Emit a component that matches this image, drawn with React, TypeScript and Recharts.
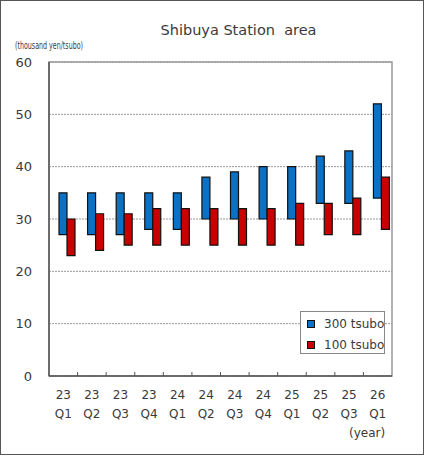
import React from 'react';
import { BarChart, Bar, XAxis, YAxis, CartesianGrid, ReferenceArea } from 'recharts';

const quarters = ['23 Q1', '23 Q2', '23 Q3', '23 Q4', '24 Q1', '24 Q2', '24 Q3', '24 Q4', '25 Q1', '25 Q2', '25 Q3', '26 Q1'];
const low300 = [27, 27, 27, 28, 28, 30, 30, 30, 30, 33, 33, 34];
const high300 = [35, 35, 35, 35, 35, 38, 39, 40, 40, 42, 43, 52];
const low100 = [23, 24, 25, 25, 25, 25, 25, 25, 25, 27, 27, 28];
const high100 = [30, 31, 31, 32, 32, 32, 32, 32, 33, 33, 34, 38];
const yTicks = [0, 10, 20, 30, 40, 50, 60];
const seriesNames = ['300 tsubo', '100 tsubo'];

const BLUE = '#0a72c6';
const RED = '#c80000';
const TEXT = '#3a3a3a';
const FONT = '"DejaVu Sans", Verdana, sans-serif';

const data = quarters.map((q, i) => ({
  label: q,
  spacer: null,
  t300: [low300[i], high300[i]],
  t100: [low100[i], high100[i]],
}));

const XTick = (props: any) => {
  const { x, y, payload, index, width } = props;
  const [yr, q] = String(payload.value).split(' ');
  const half = payload.offset || width / quarters.length / 2;
  return (
    <g>
      {index < quarters.length - 1 && (
        <line x1={x + half} x2={x + half} y1={y} y2={y - 4} stroke='#555' strokeWidth={1} />
      )}
      <text x={x} y={y + 23} textAnchor='middle' fontSize={12} fill={TEXT} fontFamily={FONT}>
        {yr}
      </text>
      <text x={x} y={y + 42} textAnchor='middle' fontSize={12} fill={TEXT} fontFamily={FONT}>
        {q}
      </text>
    </g>
  );
};

const LegendBox = () => (
  <div
    style={{
      position: 'absolute',
      left: 300,
      top: 311,
      width: 85,
      height: 43,
      border: '1px solid #888',
      background: '#fff',
      fontFamily: FONT,
      fontSize: 12,
      color: TEXT,
      padding: '2px 0 0 6px',
      boxSizing: 'border-box',
      whiteSpace: 'nowrap',
    }}>
    {seriesNames.map((name, i) => (
      <div key={name} style={{ display: 'flex', alignItems: 'center', height: 19, marginBottom: 2 }}>
        <span
          style={{
            flexShrink: 0,
            width: 6,
            height: 6,
            background: i === 0 ? BLUE : RED,
            border: '1px solid #111',
            marginRight: 9,
          }}
        />
        <span>{name}</span>
      </div>
    ))}
  </div>
);

export default function App() {
  return (
    <div style={{ position: 'absolute', left: 0, top: 0, width: 425, height: 456, background: '#fff' }}>
      <div
        style={{
          position: 'absolute',
          left: 0,
          top: 0,
          width: 425,
          textAlign: 'center',
          paddingLeft: 52,
          boxSizing: 'border-box',
          marginTop: 22,
          fontFamily: FONT,
          fontSize: 14.5,
          color: TEXT,
          whiteSpace: 'pre',
        }}>
        {'Shibuya Station  area'}
      </div>
      <svg style={{ position: 'absolute', left: 0, top: 0 }} width={425} height={60}>
        <text
          x={15}
          y={49}
          fontSize={10}
          fontFamily={FONT}
          fill={TEXT}
          textLength={68}
          lengthAdjust='spacingAndGlyphs'>
          (thousand yen/tsubo)
        </text>
      </svg>
      <div
        style={{
          position: 'absolute',
          left: 349,
          top: 426,
          fontFamily: FONT,
          fontSize: 12,
          color: TEXT,
        }}>
        (year)
      </div>
      <BarChart
        width={425}
        height={456}
        data={data}
        margin={{ top: 62, right: 33, left: 0, bottom: 0 }}
        barGap={0}
        barCategoryGap={0}>
        <CartesianGrid vertical={false} stroke='#999' strokeDasharray='2 1' />
        <ReferenceArea y1={0} y2={60} fill='none' stroke='#999' strokeWidth={1.5} ifOverflow='visible' />
        <XAxis
          dataKey='label'
          height={80}
          interval={0}
          tickLine={false}
          tickSize={0}
          tickMargin={0}
          axisLine={{ stroke: '#555', strokeWidth: 1.5 }}
          tick={<XTick />}
        />
        <YAxis
          domain={[0, 60]}
          ticks={yTicks}
          width={49}
          tickLine={false}
          tickSize={17}
          tickMargin={0}
          axisLine={{ stroke: '#555', strokeWidth: 1.5 }}
          tick={{ fontSize: 13, fill: TEXT, fontFamily: FONT }}
        />
        <Bar dataKey='spacer' barSize={8} fill='none' legendType='none' isAnimationActive={false} />
        <Bar
          dataKey='t300'
          name={seriesNames[0]}
          barSize={8}
          fill={BLUE}
          stroke='#111'
          strokeWidth={1.2}
          isAnimationActive={false}
        />
        <Bar
          dataKey='t100'
          name={seriesNames[1]}
          barSize={8}
          fill={RED}
          stroke='#111'
          strokeWidth={1.2}
          isAnimationActive={false}
        />
      </BarChart>
      <LegendBox />
      <div
        style={{
          position: 'absolute',
          left: 0,
          top: 0,
          width: 424,
          height: 455,
          border: '1px solid #555',
          boxSizing: 'border-box',
          pointerEvents: 'none',
        }}
      />
    </div>
  );
}
